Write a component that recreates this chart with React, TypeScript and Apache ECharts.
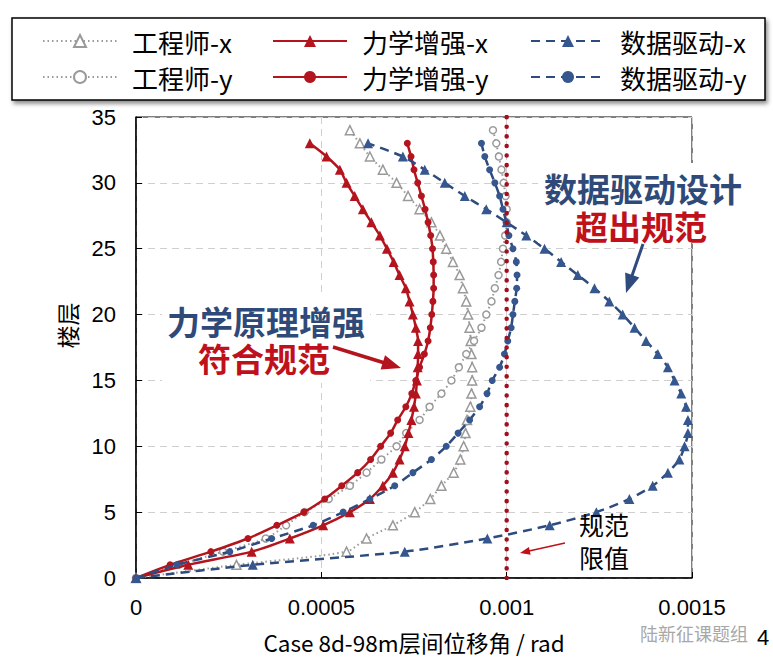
import React, { useEffect, useRef } from "react";
import * as echarts from "echarts";

// ---------------- data ----------------
const floors = [0, 1, 2, 3, 4, 5, 6, 7, 8, 9, 10, 11, 12, 13, 14, 15, 16, 17, 18, 19, 20, 21, 22, 23, 24, 25, 26, 27, 28, 29, 30, 31, 32, 33, 34];

const engineerX = [0, 2.71e-4, 5.68e-4, 6.22e-4, 6.93e-4, 7.52e-4, 7.94e-4, 8.24e-4, 8.57e-4, 8.75e-4, 8.84e-4, 8.89e-4, 8.93e-4, 9.02e-4, 9.05e-4, 9.07e-4, 9.07e-4, 9.05e-4, 9.03e-4, 9.0e-4, 8.96e-4, 8.91e-4, 8.82e-4, 8.73e-4, 8.55e-4, 8.37e-4, 8.2e-4, 7.97e-4, 7.65e-4, 7.34e-4, 7.03e-4, 6.66e-4, 6.31e-4, 6.04e-4, 5.77e-4];
const engineerY = [0, 1.15e-4, 2.35e-4, 3.5e-4, 4.05e-4, 4.55e-4, 5.2e-4, 5.77e-4, 6.22e-4, 6.62e-4, 7.03e-4, 7.29e-4, 7.65e-4, 7.92e-4, 8.24e-4, 8.51e-4, 8.71e-4, 8.91e-4, 9.12e-4, 9.32e-4, 9.45e-4, 9.59e-4, 9.68e-4, 9.78e-4, 9.85e-4, 9.9e-4, 9.96e-4, 1.0e-3, 1.0e-3, 9.97e-4, 9.92e-4, 9.86e-4, 9.79e-4, 9.72e-4, 9.63e-4];
const forceX = [0, 1.41e-4, 3.12e-4, 4.15e-4, 5.05e-4, 5.77e-4, 6.31e-4, 6.66e-4, 6.93e-4, 7.11e-4, 7.25e-4, 7.35e-4, 7.43e-4, 7.5e-4, 7.55e-4, 7.58e-4, 7.6e-4, 7.61e-4, 7.61e-4, 7.55e-4, 7.47e-4, 7.38e-4, 7.28e-4, 7.11e-4, 6.95e-4, 6.77e-4, 6.58e-4, 6.35e-4, 6.12e-4, 5.9e-4, 5.68e-4, 5.5e-4, 5.14e-4, 4.69e-4];
const forceY = [0, 9.2e-5, 2.02e-4, 3.02e-4, 3.8e-4, 4.53e-4, 5.09e-4, 5.55e-4, 5.98e-4, 6.33e-4, 6.6e-4, 6.87e-4, 7.06e-4, 7.28e-4, 7.44e-4, 7.55e-4, 7.65e-4, 7.78e-4, 7.88e-4, 7.94e-4, 7.98e-4, 8.01e-4, 8.03e-4, 8.03e-4, 8.02e-4, 8.0e-4, 7.95e-4, 7.88e-4, 7.8e-4, 7.7e-4, 7.6e-4, 7.5e-4, 7.42e-4, 7.32e-4];
const dataX = [0, 3.15e-4, 7.25e-4, 9.48e-4, 1.116e-3, 1.242e-3, 1.331e-3, 1.394e-3, 1.435e-3, 1.466e-3, 1.48e-3, 1.489e-3, 1.489e-3, 1.484e-3, 1.471e-3, 1.453e-3, 1.435e-3, 1.408e-3, 1.376e-3, 1.345e-3, 1.313e-3, 1.277e-3, 1.237e-3, 1.192e-3, 1.147e-3, 1.102e-3, 1.053e-3, 1.0e-3, 9.45e-4, 8.87e-4, 8.33e-4, 7.79e-4, 7.2e-4, 6.26e-4];
const dataY = [0, 1.1e-4, 2.53e-4, 3.66e-4, 4.78e-4, 5.59e-4, 6.31e-4, 6.98e-4, 7.47e-4, 7.97e-4, 8.37e-4, 8.69e-4, 9.0e-4, 9.27e-4, 9.47e-4, 9.61e-4, 9.81e-4, 9.94e-4, 1.003e-3, 1.012e-3, 1.017e-3, 1.022e-3, 1.027e-3, 1.028e-3, 1.026e-3, 1.017e-3, 1.006e-3, 9.99e-4, 9.9e-4, 9.81e-4, 9.68e-4, 9.54e-4, 9.41e-4, 9.32e-4];

const limitValue = 0.001;
const limitFloors = [0, 35];

const xTickLabels = ["0", "0.0005", "0.001", "0.0015"];
const yTickLabels = ["0", "5", "10", "15", "20", "25", "30", "35"];
const xStep = 0.0005;
const yStep = 5;

const seriesNames = ["工程师-x", "工程师-y", "力学增强-x", "力学增强-y", "数据驱动-x", "数据驱动-y"];

// ---------------- styles ----------------
const CJK = "'Noto Sans CJK SC', 'Noto Sans', sans-serif";
const LAT = "'Liberation Sans', Arial, sans-serif";
const GRAY = "#9a9a9a";
const RED = "#b3141d";
const BLUE = "#2e4b7d";
const BLUE_M = "#35568e";
const TEXT_BLUE = "#2f4a78";
const TEXT_RED = "#c0101a";

const pairs = (vals: number[]) => vals.map((v, i) => [v, floors[i]]);

function arrow(x1: number, y1: number, x2: number, y2: number, color: string, lw: number, hl: number, hw: number) {
  const dx = x2 - x1, dy = y2 - y1;
  const L = Math.hypot(dx, dy);
  const ux = dx / L, uy = dy / L;
  const bx = x2 - ux * hl, by = y2 - uy * hl;
  const px = -uy, py = ux;
  return [
    { type: "line", z: 100, shape: { x1, y1, x2: bx + ux * 2, y2: by + uy * 2 }, style: { stroke: color, lineWidth: lw } },
    {
      type: "polygon", z: 100,
      shape: { points: [[x2, y2], [bx + (px * hw) / 2, by + (py * hw) / 2], [bx - (px * hw) / 2, by - (py * hw) / 2]] },
      style: { fill: color },
    },
  ];
}

function boldText(text: string, x: number, y: number, color: string) {
  return {
    type: "text", z: 101, x, y,
    style: {
      text, fill: color, fontSize: 33, lineHeight: 33, fontWeight: "bold", fontFamily: CJK,
      align: "center", verticalAlign: "middle",
    },
  };
}

export default function App() {
  const ref = useRef<HTMLDivElement>(null);

  useEffect(() => {
    if (!ref.current) return;
    const chart = echarts.init(ref.current, undefined, { renderer: "svg" });

    const legendCommon = {
      orient: "vertical",
      itemWidth: 74,
      itemHeight: 15,
      itemGap: 8,
      textStyle: { fontSize: 26, fontFamily: CJK, color: "#000", padding: [0, 0, 0, 10], lineHeight: 28 },
    };

    const option: any = {
      animation: false,
      backgroundColor: "#fff",
      grid: { left: 136, right: 81, top: 117, bottom: 82, show: true, borderColor: "#000", borderWidth: 1, backgroundColor: "transparent" },
      legend: [
        { ...legendCommon, data: [seriesNames[0], seriesNames[1]], left: 37, top: 22 },
        { ...legendCommon, data: [seriesNames[2], seriesNames[3]], left: 267, top: 22 },
        { ...legendCommon, data: [seriesNames[4], seriesNames[5]], left: 525, top: 22 },
      ],
      xAxis: {
        type: "value", min: 0, max: 0.0015, interval: xStep,
        name: "Case 8d-98m层间位移角 / rad",
        nameLocation: "middle", nameGap: 53,
        nameTextStyle: { fontSize: 22.5, fontFamily: CJK, color: "#000" },
        axisLine: { show: true, lineStyle: { color: "#000", width: 1.5 } },
        axisTick: { show: true, inside: true, length: 6, lineStyle: { color: "#000", width: 1 } },
        axisLabel: {
          fontSize: 22, fontFamily: LAT, color: "#000", margin: 18,
          formatter: (v: number) => xTickLabels[Math.round(v / xStep)] ?? "",
        },
        splitLine: { show: true, lineStyle: { color: "#cfcfcf", type: [7, 5], width: 1 } },
      },
      yAxis: {
        type: "value", min: 0, max: 35, interval: yStep,
        name: "楼层",
        nameLocation: "middle", nameGap: 58,
        nameTextStyle: { fontSize: 23, fontFamily: CJK, color: "#000", padding: [0, 0, 0, 44] },
        axisLine: { show: true, lineStyle: { color: "#000", width: 1.5 } },
        axisTick: { show: true, inside: true, length: 6, lineStyle: { color: "#000", width: 1 } },
        axisLabel: {
          fontSize: 22, fontFamily: LAT, color: "#000", margin: 20,
          formatter: (v: number) => yTickLabels[Math.round(v / yStep)] ?? "",
        },
        splitLine: { show: true, lineStyle: { color: "#cfcfcf", type: [7, 5], width: 1 } },
      },
      series: [
        {
          name: seriesNames[0], type: "line", data: pairs(engineerX), smooth: 0.25,
          symbol: "triangle", symbolSize: 9,
          lineStyle: { color: GRAY, width: 2, type: [1.5, 3] },
          itemStyle: { color: "#fff", borderColor: GRAY, borderWidth: 1.5 },
          z: 2,
        },
        {
          name: seriesNames[1], type: "line", data: pairs(engineerY), smooth: 0.25,
          symbol: "circle", symbolSize: 7,
          lineStyle: { color: GRAY, width: 2, type: [1.5, 3] },
          itemStyle: { color: "#fff", borderColor: GRAY, borderWidth: 1.5 },
          z: 2,
        },
        {
          name: seriesNames[2], type: "line", data: pairs(forceX), smooth: 0.25,
          symbol: "triangle", symbolSize: 10,
          lineStyle: { color: RED, width: 2.5 },
          itemStyle: { color: RED },
          z: 3,
        },
        {
          name: seriesNames[3], type: "line", data: pairs(forceY), smooth: 0.25,
          symbol: "circle", symbolSize: 7,
          lineStyle: { color: RED, width: 2.5 },
          itemStyle: { color: RED },
          z: 3,
        },
        {
          name: seriesNames[4], type: "line", data: pairs(dataX), smooth: 0.25,
          symbol: "triangle", symbolSize: 10,
          lineStyle: { color: BLUE, width: 2.5, type: [9, 6] },
          itemStyle: { color: BLUE_M },
          z: 4,
        },
        {
          name: seriesNames[5], type: "line", data: pairs(dataY), smooth: 0.25,
          symbol: "circle", symbolSize: 7,
          lineStyle: { color: BLUE, width: 2.5, type: [9, 6] },
          itemStyle: { color: BLUE_M },
          z: 4,
        },
        {
          name: "规范限值", type: "line",
          data: limitFloors.map((f) => [limitValue, f]),
          symbol: "none",
          lineStyle: { color: "#a3101c", width: 4.5, type: [0.1, 9.5], cap: "round" },
          z: 5, silent: true,
        },
      ],
      graphic: [
        // legend frame
        {
          type: "rect", z: 0,
          shape: { x: 12, y: 18, width: 753, height: 82 },
          style: { fill: "#fff", stroke: "#000", lineWidth: 1.5, shadowColor: "rgba(0,0,0,0.45)", shadowBlur: 4, shadowOffsetX: 2, shadowOffsetY: 3 },
        },
        // white boxes behind annotations
        { type: "rect", z: 99, shape: { x: 162, y: 293, width: 208, height: 90 }, style: { fill: "#fff" } },
        { type: "rect", z: 99, shape: { x: 538, y: 163, width: 210, height: 80 }, style: { fill: "#fff" } },
        boldText("力学原理增强", 266, 321, TEXT_BLUE),
        boldText("符合规范", 264, 358, TEXT_RED),
        boldText("数据驱动设计", 643, 188, TEXT_BLUE),
        boldText("超出规范", 641, 226, TEXT_RED),
        ...arrow(333, 347, 401, 368, RED, 3.5, 19, 15),
        ...arrow(643, 244, 626, 293, BLUE, 3, 19, 15),
        ...arrow(565, 543, 520, 553, "#c0101a", 1.5, 10, 8),
        {
          type: "text", z: 101, x: 604, y: 540,
          style: {
            text: "规范\n限值", fill: "#000", fontSize: 25, lineHeight: 33, fontFamily: CJK,
            align: "center", verticalAlign: "middle",
          },
        },
        {
          type: "text", z: 101, x: 640, y: 633,
          style: { text: "陆新征课题组", fill: "#a8a8a8", fontSize: 18, lineHeight: 18, fontFamily: CJK, align: "left", verticalAlign: "middle" },
        },
        {
          type: "text", z: 101, x: 757, y: 637,
          style: { text: "4", fill: "#000", fontSize: 22, fontFamily: LAT, align: "left", verticalAlign: "middle" },
        },
      ],
    };

    chart.setOption(option);
    return () => chart.dispose();
  }, []);

  return (
    <div
      ref={ref}
      style={{ position: "fixed", left: 0, top: 0, width: 773, height: 660, background: "#fff" }}
    />
  );
}
